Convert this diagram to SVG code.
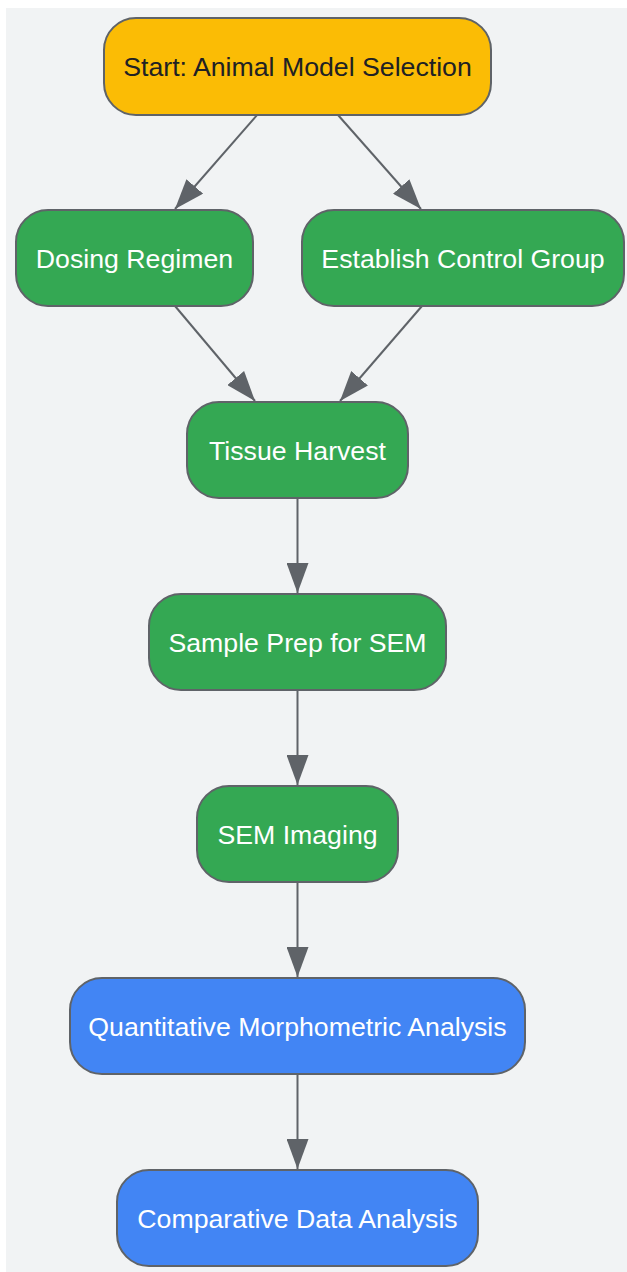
<svg xmlns="http://www.w3.org/2000/svg" width="627" height="1272" viewBox="0 0 627 1272">
<style>
.n rect{stroke:#5F6368;stroke-width:2}
.g rect{fill:#34A853}
.b rect{fill:#4285F4}
.y rect{fill:#FBBC05}
.n text{font-family:"Liberation Sans",Arial,sans-serif;font-size:26.7px;text-anchor:middle;fill:#FFFFFF}
.y text{fill:#202124}
#edges line{stroke:#5F6368;stroke-width:2}
</style>
<defs>
<marker id="ah" viewBox="0 0 30 22" refX="30" refY="11" markerWidth="30" markerHeight="22" markerUnits="userSpaceOnUse" orient="auto">
<path d="M0,0 L30,11 L0,22 Z" fill="#5F6368"/>
</marker>
</defs>
<rect x="6" y="8" width="621" height="1264" fill="#F1F3F4"/>
<g id="edges">
<line x1="257" y1="115" x2="175" y2="209" marker-end="url(#ah)"/>
<line x1="338" y1="115" x2="421" y2="209" marker-end="url(#ah)"/>
<line x1="175" y1="306" x2="255" y2="401" marker-end="url(#ah)"/>
<line x1="422" y1="306" x2="340" y2="401" marker-end="url(#ah)"/>
<line x1="297.5" y1="498" x2="297.5" y2="593" marker-end="url(#ah)"/>
<line x1="297.5" y1="690" x2="297.5" y2="785" marker-end="url(#ah)"/>
<line x1="297.5" y1="882" x2="297.5" y2="977" marker-end="url(#ah)"/>
<line x1="297.5" y1="1074" x2="297.5" y2="1169" marker-end="url(#ah)"/>
</g>
<g id="start" class="n y"><rect x="104" y="18" width="387" height="97" rx="32"/><text x="297.5" y="76">Start: Animal Model Selection</text></g>
<g id="dosing" class="n g"><rect x="16" y="210" width="237" height="96" rx="32"/><text x="134.5" y="268">Dosing Regimen</text></g>
<g id="control" class="n g"><rect x="302" y="210" width="322" height="96" rx="32"/><text x="463" y="268">Establish Control Group</text></g>
<g id="harvest" class="n g"><rect x="187" y="402" width="221" height="96" rx="32"/><text x="297.5" y="460">Tissue Harvest</text></g>
<g id="prep" class="n g"><rect x="149" y="594" width="297" height="96" rx="32"/><text x="297.5" y="652">Sample Prep for SEM</text></g>
<g id="imaging" class="n g"><rect x="197" y="786" width="201" height="96" rx="32"/><text x="297.5" y="844">SEM Imaging</text></g>
<g id="quant" class="n b"><rect x="70" y="978" width="455" height="96" rx="32"/><text x="297.5" y="1036">Quantitative Morphometric Analysis</text></g>
<g id="compare" class="n b"><rect x="117" y="1170" width="361" height="96" rx="32"/><text x="297.5" y="1228">Comparative Data Analysis</text></g>
</svg>
